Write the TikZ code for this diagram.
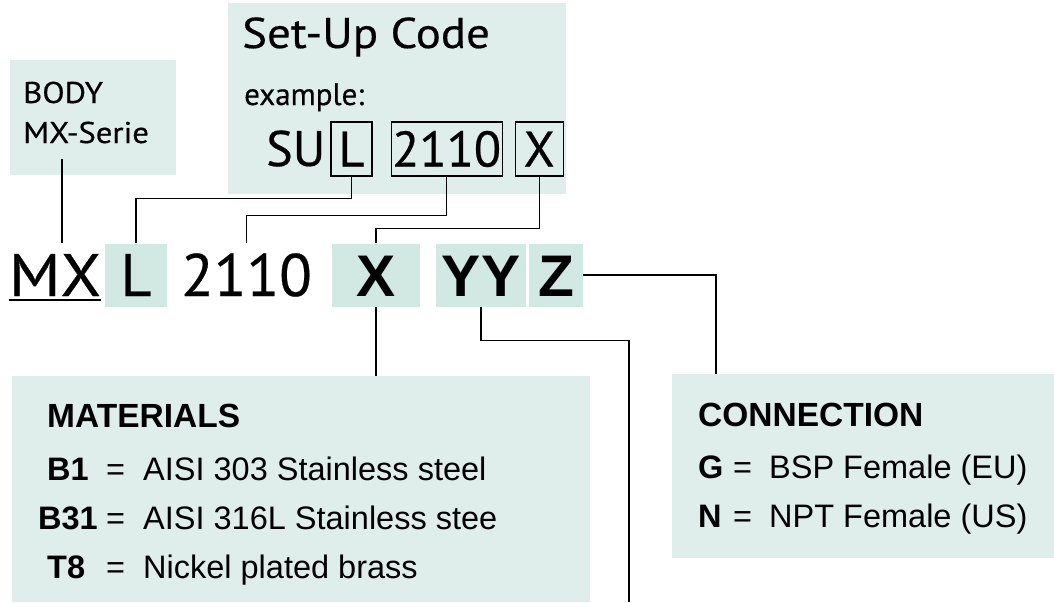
\documentclass[tikz,border=0pt]{standalone}
\usepackage{fontspec}
\usetikzlibrary{positioning}
\newfontfamily\ptsans[FakeBold=0.4]{PT Sans}
\newfontfamily\ptwide[FakeBold=0.4,FakeStretch=1.09]{PT Sans}
\newfontfamily\arialsans{Liberation Sans}
\definecolor{panelmint}{HTML}{DFEEEA}
\definecolor{codemint}{HTML}{D1E8E3}
\tikzset{
  panel/.style={fill=panelmint, anchor=north west, inner sep=0mm
  },
  ptxt/.style={inner sep=0mm, anchor=base west, font=\ptsans\fontsize{#1}{#1}\selectfont
  },
  pwide/.style={inner sep=0mm, anchor=base west, font=\ptwide\fontsize{#1}{#1}\selectfont
  },
  atxt/.style={inner sep=0mm, anchor=base west, font=\arialsans\fontsize{#1}{#1}\selectfont
  },
  atxtb/.style={inner sep=0mm, anchor=base west, font=\arialsans\bfseries\fontsize{#1}{#1}\selectfont
  },
  upbox/.style={draw, line width=1.1pt, inner sep=0mm, text height=35pt, text depth=0pt,
    minimum height=54pt, font=\ptsans\fontsize{50}{50}\selectfont
  },
  rowbox/.style={inner sep=0mm, text height=42pt, text depth=0pt, minimum height=63pt
  },
  lead/.style={line width=1.2pt}
}
\begin{document}
\begin{tikzpicture}[x=1pt,y=-1pt]
 \useasboundingbox (0,0) rectangle (1054,602);

 \node[panel, minimum width=166, minimum height=115] (body) at (10,60) {};
 \node[panel, minimum width=338, minimum height=191] (setup) at (228,3) {};
 \node[panel, minimum width=578, minimum height=226] (mat) at (12,376) {};
 \node[panel, minimum width=382, minimum height=184] (conn) at (672,374) {};

 \node[pwide=30] (bodyA) at (23,103) {BODY};
 \node[pwide=30] (bodyB) at (23,143) {MX-Serie};
 \node[pwide=43] (setuptitle) at (242,48) {Set-Up Code};
 \node[ptxt=31] (example) at (244,105) {example:};
 \node[ptxt=50] (su) at (266,166) {SU};
 \node[upbox, minimum width=41] (upL) at (351.5,149) {L};
 \node[upbox, minimum width=111, right=18 of upL] (up2110) {2110};
 \node[upbox, minimum width=48, right=12 of up2110] (upX) {X};

 \node[rowbox, font=\ptwide\fontsize{60}{60}\selectfont] (rowMX) at (55,275) {MX};
 \node[rowbox, fill=codemint, minimum width=62, font=\ptsans\fontsize{60}{60}\selectfont] (rowL) at (136,275) {L};
 \node[rowbox, font=\ptsans\fontsize{60}{60}\selectfont] (row2110) at (246.5,275) {2110};
 \node[rowbox, fill=codemint, minimum width=88, font=\arialsans\bfseries\fontsize{58.7}{58.7}\selectfont] (rowX) at (376,275) {X};
 \node[rowbox, fill=codemint, minimum width=90, font=\arialsans\bfseries\fontsize{58.7}{58.7}\selectfont] (rowY) at (481,275) {YY};
 \node[rowbox, fill=codemint, minimum width=54, font=\arialsans\bfseries\fontsize{58.7}{58.7}\selectfont] (rowZ) at (556,275) {Z};
 \draw[line width=1.5pt] ([yshift=-4pt]rowMX.base west) -- ([yshift=-4pt]rowMX.base east);

 \node[atxtb=33.5] (mattitle) at (47,427) {MATERIALS};
 \foreach \code/\cx/\desc/\yy [count=\i] in {B1/47/AISI 303 Stainless steel/480,
   B31/38/AISI 316L Stainless stee/529, T8/47/Nickel plated brass/578} {
   \node[atxtb=32.5] (matcode\i) at (\cx,\yy) {\code};
   \node[atxt=32.5] (mateq\i) at (106,\yy) {=};
   \node[atxt=32.5] (matdesc\i) at (143,\yy) {\desc};
  }

 \node[atxtb=33.5] (conntitle) at (698,426) {CONNECTION};
 \foreach \code/\desc/\yy [count=\i] in {G/BSP Female (EU)/478, N/NPT Female (US)/527} {
   \node[atxtb=32.5] (conncode\i) at (698,\yy) {\code};
   \node[atxt=32.5] (conneq\i) at (733,\yy) {=};
   \node[atxt=32.5] (conndesc\i) at (769,\yy) {\desc};
  }

 \coordinate (bodytail) at (62,159);
 \coordinate (yyend) at (629,602);
 \draw[lead] (bodytail) -- (bodytail |- rowMX.north);
 \draw[lead] (upL.south) -- ++(0,22) -| (rowL.north);
 \draw[lead] (up2110.south) -- ++(0,39) -| (row2110.north);
 \draw[lead] (upX.south) -- ++(0,52) -| (rowX.north);
 \draw[lead] (rowX.south) -- (rowX.south |- mat.north);
 \draw[lead] (rowY.south) -- ++(0,34) -| (yyend);
 \draw[lead] (rowZ.east) -| ([xshift=44]conn.north west);
\end{tikzpicture}
\end{document}
